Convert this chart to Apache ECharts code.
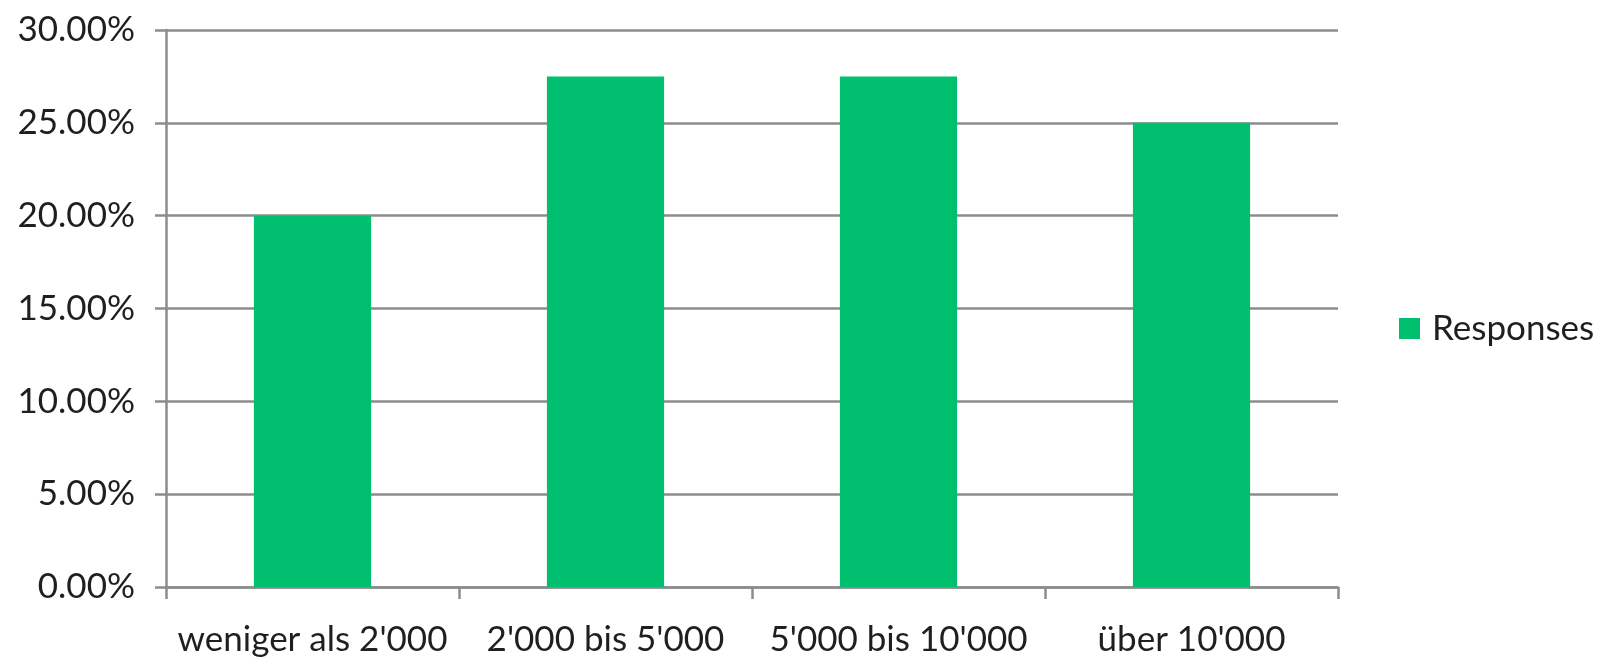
<!DOCTYPE html>
<html>
<head>
<meta charset="utf-8">
<script src="https://cdn.jsdelivr.net/npm/echarts@6/dist/echarts.min.js"></script>
<style>
  html, body { margin: 0; padding: 0; background: #fff; }
  #chart { width: 1599px; height: 657px; }
</style>
</head>
<body>
<div id="chart"></div>
<script>
// Survey answers by size class
const categories = ["weniger als 2'000", "2'000 bis 5'000", "5'000 bis 10'000", "über 10'000"];
const responses = [20.0, 27.5, 27.5, 25.0];
const seriesName = 'Responses';

const FONT = 'Lato';
const AXIS_GREY = '#8c8c8c';
const TEXT = '#1f1f1f';

const chart = echarts.init(document.getElementById('chart'), null, { renderer: 'canvas' });
chart.setOption({
  animation: false,
  backgroundColor: '#ffffff',
  textStyle: { fontFamily: FONT },
  grid: { left: 166, right: 261, top: 30, bottom: 68, containLabel: false },
  legend: {
    data: [seriesName],
    orient: 'vertical',
    left: 1394,
    top: 'middle',
    icon: 'rect',
    itemWidth: 21,
    itemHeight: 21,
    itemGap: 10,
    textStyle: { fontFamily: FONT, fontSize: 35, color: TEXT, padding: [0, 0, 0, 7] }
  },
  xAxis: {
    type: 'category',
    data: categories,
    boundaryGap: true,
    axisLine: { show: true, lineStyle: { color: AXIS_GREY, width: 2.5 } },
    axisTick: { show: true, length: 12, alignWithLabel: false, lineStyle: { color: AXIS_GREY, width: 2.5 } },
    axisLabel: { fontFamily: FONT, fontSize: 35, color: TEXT, margin: 35, interval: 0 },
    splitLine: { show: false }
  },
  yAxis: {
    type: 'value',
    min: 0,
    max: 30,
    interval: 5,
    axisLine: { show: true, lineStyle: { color: AXIS_GREY, width: 2.5 } },
    axisTick: { show: true, length: 11, lineStyle: { color: AXIS_GREY, width: 2.5 } },
    axisLabel: {
      fontFamily: FONT, fontSize: 35, color: TEXT, margin: 31,
      formatter: v => v.toFixed(2) + '%'
    },
    splitLine: { show: true, lineStyle: { color: AXIS_GREY, width: 2.5 } }
  },
  series: [{
    name: seriesName,
    type: 'bar',
    data: responses,
    barCategoryGap: '60%',
    itemStyle: { color: '#00bf6f' }
  }]
});
</script>
</body>
</html>
